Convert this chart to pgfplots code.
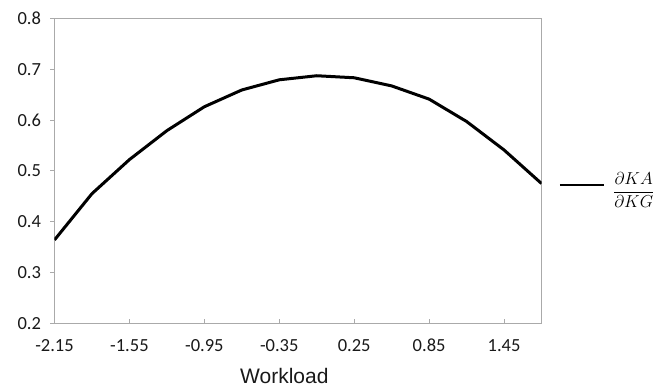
\documentclass[border=0pt]{standalone}
\usepackage{pgfplots}
\pgfplotsset{compat=1.18}
\usepackage{fontspec}
\setmainfont{Carlito}
\newfontfamily\arialf{Liberation Sans}
\definecolor{axgray}{RGB}{170,170,170}
\begin{document}
\begin{tikzpicture}
\begin{axis}[
  at={(0pt,0pt)}, anchor=south west,
  scale only axis, width=487pt, height=305pt,
  xmin=-2.15, xmax=1.75, ymin=0.2, ymax=0.8,
  xtick={-2.15,-1.55,-0.95,-0.35,0.25,0.85,1.45},
  xticklabels={-2.15,-1.55,-0.95,-0.35,0.25,0.85,1.45},
  ytick={0.2,0.3,0.4,0.5,0.6,0.7,0.8},
  yticklabels={0.2,0.3,0.4,0.5,0.6,0.7,0.8},
  axis line style={axgray, line width=1.1pt},
  tick style={axgray, line width=0.9pt},
  xtick pos=bottom, ytick pos=left,
  major tick length=4pt,
  xtick align=inside, ytick align=outside,
  ticklabel style={font=\fontsize{18.5}{22}\selectfont, text=black!90},
  xticklabel style={text height=12pt, text depth=0pt, yshift=-12.5pt},
  yticklabel style={xshift=-6pt},
  xlabel={Workload},
  every axis x label/.style={at={(axis description cs:0.472,-0.1725)}, anchor=center, font=\arialf\fontsize{21}{24}\selectfont, text=black!90},
  legend style={at={(axis description cs:1,0.4535)}, anchor=west, xshift=17pt, draw=none, fill=none, inner sep=0pt, outer sep=0pt, nodes={inner sep=0pt}, column sep=8pt, font=\fontsize{19}{22}\selectfont},
  legend image code/.code={\draw[#1, line width=2.6pt] (0pt,0pt) -- (44pt,0pt);},
]
\addplot[black, line width=3pt, line join=round] coordinates {
(-2.15,0.364) (-1.85,0.455) (-1.55,0.522) (-1.25,0.579) (-0.95,0.626)
(-0.65,0.659) (-0.35,0.679) (-0.05,0.687) (0.25,0.683) (0.55,0.667)
(0.85,0.641) (1.15,0.597) (1.45,0.541) (1.75,0.475)
};
\addlegendentry{$\displaystyle\frac{\partial KA}{\partial KG}$}
\end{axis}
\useasboundingbox (-54.5pt,-61.7pt) rectangle (611.5pt,323.3pt);
\end{tikzpicture}
\end{document}
